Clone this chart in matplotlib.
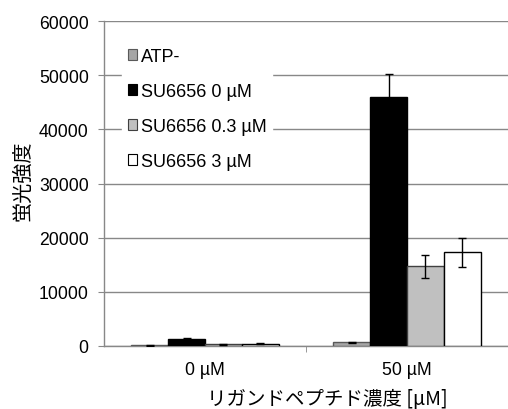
import matplotlib
matplotlib.use("Agg")
import matplotlib.pyplot as plt
import numpy as np

categories = ["0 µM", "50 µM"]
series_names = ["ATP-", "SU6656 0 µM", "SU6656 0.3 µM", "SU6656 3 µM"]
atp_minus = [100, 700]
su_0 = [1200, 46000]
su_03 = [300, 14700]
su_3 = [400, 17300]
err_atp_minus = [30, 100]
err_su_0 = [300, 4300]
err_su_03 = [80, 2100]
err_su_3 = [80, 2700]
yticks = [0, 10000, 20000, 30000, 40000, 50000, 60000]

plt.rcParams['font.family'] = ['Liberation Sans', 'Noto Sans CJK JP', 'DejaVu Sans']

fig = plt.figure(figsize=(5.08, 4.10), dpi=100)
ax = fig.add_axes([0.2047, 0.1537, 0.7953, 0.7926])

values = [atp_minus, su_0, su_03, su_3]
errs = [err_atp_minus, err_su_0, err_su_03, err_su_3]
faces = ["#a6a6a6", "#000000", "#c0c0c0", "#ffffff"]
edges = ["#595959", "#000000", "#404040", "#000000"]

x = np.arange(len(categories))
w = 0.182
for i, (v, e, fc, ec, nm) in enumerate(zip(values, errs, faces, edges, series_names)):
    pos = x + (i - 1.5) * w
    ax.bar(pos, v, width=w, color=fc, edgecolor=ec, linewidth=1.0, label=nm, zorder=3)
    ax.errorbar(pos, v, yerr=e, fmt='none', ecolor='black', elinewidth=1.0,
                capsize=3, capthick=1.0, zorder=4)

ax.set_xlim(-0.5, 1.5)
ax.set_ylim(0, 60000)
ax.set_yticks(yticks)
ax.set_yticklabels([str(t) for t in yticks], fontsize=12.7)
ax.set_xticks(x)
ax.set_xticklabels(categories, fontsize=12.7)
ax.tick_params(axis='x', length=0, pad=11)
ax.set_xticks([0.5], minor=True)
ax.tick_params(axis='x', which='minor', length=4, color='#888888')
ax.tick_params(axis='y', length=4, color='#888888', pad=7)
ax.grid(axis='y', color='#888888', linewidth=1.0, zorder=0)
ax.set_axisbelow(True)
for s in ['top', 'right']:
    ax.spines[s].set_visible(False)
ax.spines['left'].set_color('#888888')
ax.spines['bottom'].set_color('#888888')
ax.spines['left'].set_linewidth(1.0)
ax.spines['bottom'].set_linewidth(1.0)

ax.set_ylabel("蛍光強度", fontsize=14.5, family=['Noto Sans CJK JP', 'DejaVu Sans'],
              va='center', ha='center')
ax.yaxis.set_label_coords(-0.202, 0.511)
ax.set_xlabel("リガンドペプチド濃度 [μM]", fontsize=14, family=['Noto Sans CJK JP', 'DejaVu Sans'],
              va='center', ha='center')
ax.xaxis.set_label_coords(0.552, -0.163)

leg = ax.legend(loc='upper left', bbox_to_anchor=(0.023, 0.962), fontsize=13, frameon=True,
                framealpha=1.0, edgecolor='white', fancybox=False,
                handlelength=0.5, handleheight=0.5, handletextpad=0.25,
                labelspacing=1.0, borderpad=0.3)
for h in leg.legend_handles:
    h.set_linewidth(0.8)

fig.savefig("out.png", dpi=100)
